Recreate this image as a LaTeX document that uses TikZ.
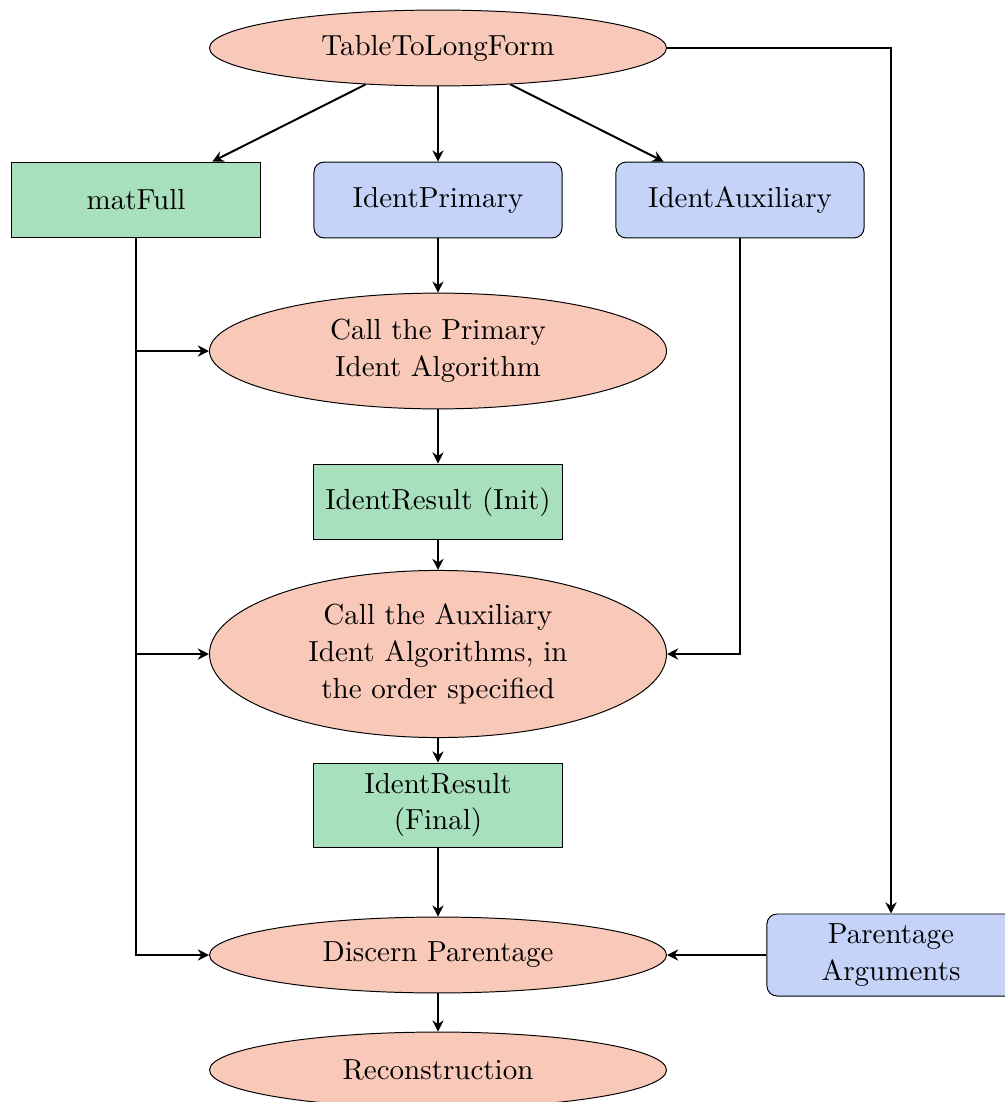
\documentclass[tikz,border=0pt]{standalone}
\usetikzlibrary{shapes.geometric,arrows.meta}
\definecolor{ellfill}{HTML}{F8C8B8}
\definecolor{greenfill}{HTML}{A8E0BE}
\definecolor{bluefill}{HTML}{C5D3F8}
\begin{document}
\begin{tikzpicture}[x=0.3584pt,y=-0.3584pt,
  every node/.style={font=\fontsize{10.4}{13.2}\selectfont, align=center, inner sep=0pt},
  ell/.style={ellipse, draw, fill=ellfill, line width=0.35pt, minimum width=163.8pt},
  gbox/.style={rectangle, draw, fill=greenfill, line width=0.35pt, minimum width=88.9pt, minimum height=27.2pt},
  bbox/.style={rectangle, rounded corners=3.6pt, draw, fill=bluefill, line width=0.35pt, minimum width=88.9pt, minimum height=27.2pt},
  arr/.style={-{Stealth[length=4pt,width=4pt,inset=1.3pt]}, line width=0.7pt}]
\useasboundingbox (0,0) rectangle (1005,1102);
\node[ell, minimum height=27.2pt] (ttlf) at (438,48) {TableToLongForm};
\node[gbox] (matfull) at (136,200) {matFull};
\node[bbox] (iprim) at (438,200) {IdentPrimary};
\node[bbox] (iaux) at (740,200) {IdentAuxiliary};
\node[ell, minimum height=41.5pt] (cp) at (438,351) {Call the Primary\\Ident Algorithm};
\node[gbox] (ir1) at (438,502) {IdentResult (Init)};
\node[ell, minimum height=59.9pt] (ca) at (438,654) {Call the Auxiliary\\Ident Algorithms, in\\the order specified};
\node[gbox, minimum height=30.1pt] (ir2) at (438,805) {IdentResult\\(Final)};
\node[ell, minimum height=27.2pt] (disc) at (438,955) {Discern Parentage};
\node[bbox, minimum height=29.4pt] (pa) at (891,955) {Parentage\\Arguments};
\node[ell, minimum height=27.2pt] (rec) at (438,1070) {Reconstruction};
\draw[arr] (ttlf) -- (matfull);
\draw[arr] (ttlf) -- (iprim);
\draw[arr] (ttlf) -- (iaux);
\draw[arr] (ttlf.east) -| (pa.north);
\draw[arr] (iprim) -- (cp);
\draw[arr] (cp) -- (ir1);
\draw[arr] (ir1) -- (ca);
\draw[arr] (ca) -- (ir2);
\draw[arr] (ir2) -- (disc);
\draw[arr] (disc) -- (rec);
\draw[arr] (matfull.south) |- (cp.west);
\draw[arr] (matfull.south) |- (ca.west);
\draw[arr] (matfull.south) |- (disc.west);
\draw[arr] (iaux.south) |- (ca.east);
\draw[arr] (pa.west) -- (disc.east);
\end{tikzpicture}
\end{document}
